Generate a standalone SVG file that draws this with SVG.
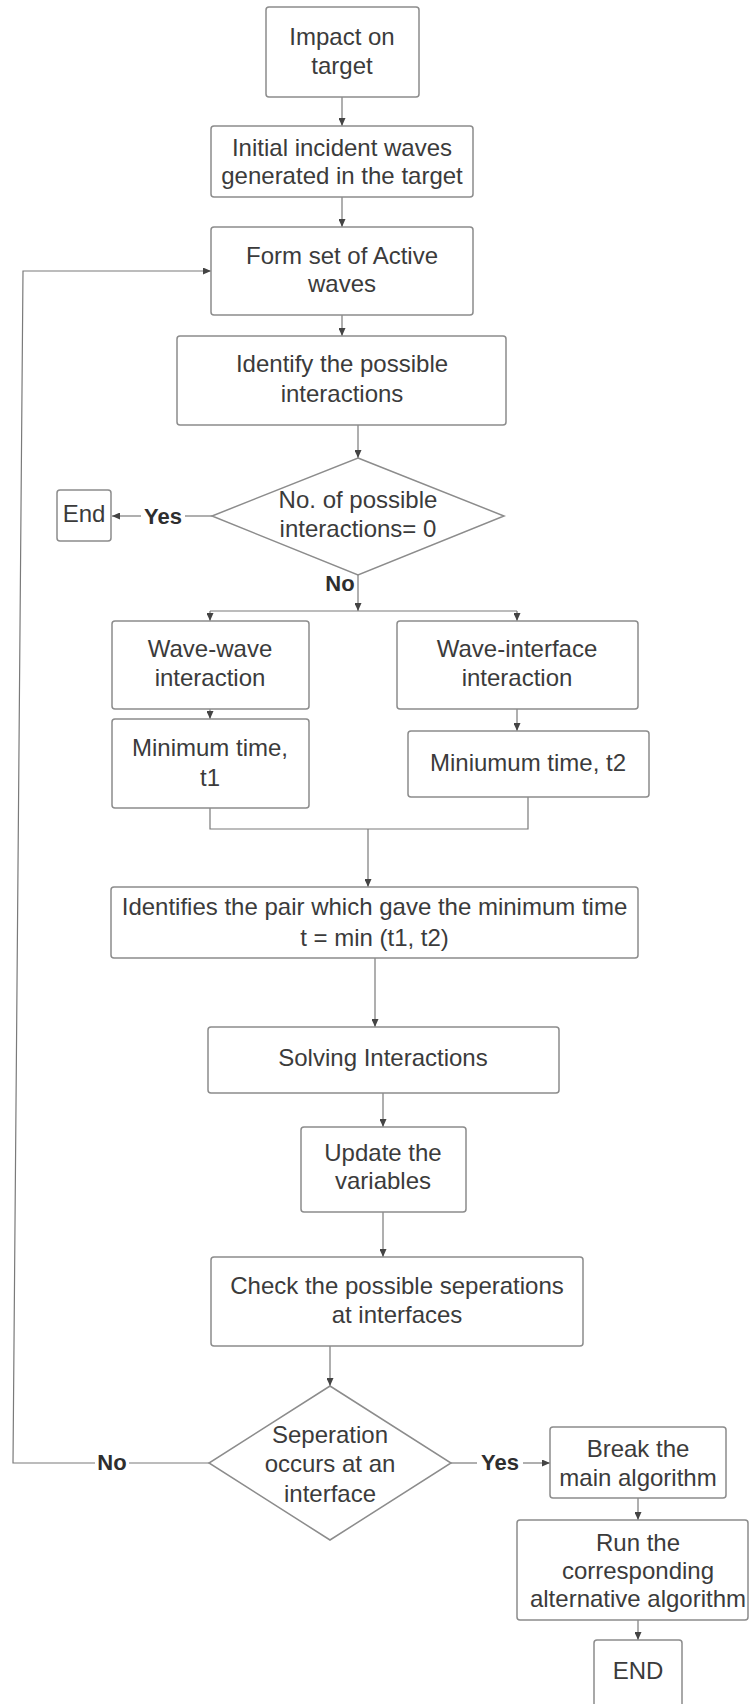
<svg xmlns="http://www.w3.org/2000/svg" width="749" height="1704" viewBox="0 0 749 1704">
<style>
  .box { fill: #ffffff; stroke: #8c8c8c; stroke-width: 1.5; }
  .t { font-family: "Liberation Sans", Arial, sans-serif; font-size: 24px; fill: #3b3b3b; text-anchor: middle; }
  .lbl { font-family: "Liberation Sans", Arial, sans-serif; font-size: 22px; font-weight: bold; fill: #2e2e2e; text-anchor: middle; }
  .c { fill: none; stroke: #7a7a7a; stroke-width: 1.2; }
  .ca { fill: none; stroke: #7a7a7a; stroke-width: 1.2; marker-end: url(#ah); }
</style>
<defs>
  <marker id="ah" markerUnits="userSpaceOnUse" markerWidth="8" markerHeight="7" refX="8" refY="3.5" orient="auto">
    <path d="M0,0 L8,3.5 L0,7 z" fill="#444444"/>
  </marker>
</defs>
<rect width="749" height="1704" fill="#ffffff"/>

<g id="connectors">
  <line class="ca" x1="342" y1="97" x2="342" y2="126"/>
  <line class="ca" x1="342" y1="197" x2="342" y2="227"/>
  <line class="ca" x1="342" y1="315" x2="342" y2="336"/>
  <line class="ca" x1="358" y1="425" x2="358" y2="458"/>
  <line class="c" x1="212" y1="516" x2="185" y2="516"/>
  <line class="ca" x1="141" y1="516" x2="112" y2="516"/>
  <line class="ca" x1="358" y1="575" x2="358" y2="611"/>
  <polyline class="c" points="210,611 517,611"/>
  <line class="ca" x1="210" y1="611" x2="210" y2="621"/>
  <line class="ca" x1="517" y1="611" x2="517" y2="621"/>
  <line class="ca" x1="210" y1="709" x2="210" y2="719"/>
  <line class="ca" x1="517" y1="709" x2="517" y2="731"/>
  <polyline class="c" points="210,808 210,829 528,829 528,797"/>
  <line class="ca" x1="368" y1="829" x2="368" y2="887"/>
  <line class="ca" x1="375" y1="958" x2="375" y2="1027"/>
  <line class="ca" x1="383" y1="1093" x2="383" y2="1127"/>
  <line class="ca" x1="383" y1="1212" x2="383" y2="1257"/>
  <line class="ca" x1="330" y1="1346" x2="330" y2="1386"/>
  <line class="c" x1="209" y1="1463" x2="129" y2="1463"/>
  <polyline class="ca" points="95,1463 13,1463 23,271 211,271"/>
  <line class="c" x1="451" y1="1463" x2="477" y2="1463"/>
  <line class="ca" x1="523" y1="1463" x2="550" y2="1463"/>
  <line class="ca" x1="638" y1="1498" x2="638" y2="1520"/>
  <line class="ca" x1="638" y1="1620" x2="638" y2="1640"/>
  <text class="lbl" x="163" y="524">Yes</text>
  <text class="lbl" x="340" y="591">No</text>
  <text class="lbl" x="112" y="1470">No</text>
  <text class="lbl" x="500" y="1470">Yes</text>
</g>

<g id="impact">
  <rect class="box" x="266" y="7" width="153" height="90" rx="3"/>
  <text class="t" x="342" y="44.5">Impact on</text>
  <text class="t" x="342" y="73.5">target</text>
</g>
<g id="initial">
  <rect class="box" x="211" y="126" width="262" height="71" rx="3"/>
  <text class="t" x="342" y="155.5">Initial incident waves</text>
  <text class="t" x="342" y="183.5">generated in the target</text>
</g>
<g id="formset">
  <rect class="box" x="211" y="227" width="262" height="88" rx="3"/>
  <text class="t" x="342" y="263.5">Form set of Active</text>
  <text class="t" x="342" y="291.5">waves</text>
</g>
<g id="identify">
  <rect class="box" x="177" y="336" width="329" height="89" rx="3"/>
  <text class="t" x="342" y="371.5">Identify the possible</text>
  <text class="t" x="342" y="401.5">interactions</text>
</g>
<g id="decision1">
  <polygon class="box" points="358,458 504,516 358,575 212,516"/>
  <text class="t" x="358" y="507.5">No. of possible</text>
  <text class="t" x="358" y="536.5">interactions= 0</text>
</g>
<g id="end1">
  <rect class="box" x="57" y="490" width="54" height="51" rx="3"/>
  <text class="t" x="84" y="521.5">End</text>
</g>
<g id="wavewave">
  <rect class="box" x="112" y="621" width="197" height="88" rx="3"/>
  <text class="t" x="210" y="656.5">Wave-wave</text>
  <text class="t" x="210" y="685.5">interaction</text>
</g>
<g id="waveinterface">
  <rect class="box" x="397" y="621" width="241" height="88" rx="3"/>
  <text class="t" x="517" y="656.5">Wave-interface</text>
  <text class="t" x="517" y="685.5">interaction</text>
</g>
<g id="mint1">
  <rect class="box" x="112" y="719" width="197" height="89" rx="3"/>
  <text class="t" x="210" y="755.5">Minimum time,</text>
  <text class="t" x="210" y="785.5">t1</text>
</g>
<g id="mint2">
  <rect class="box" x="408" y="731" width="241" height="66" rx="3"/>
  <text class="t" x="528" y="770.5">Miniumum time, t2</text>
</g>
<g id="identifies">
  <rect class="box" x="111" y="887" width="527" height="71" rx="3"/>
  <text class="t" x="374.5" y="915">Identifies the pair which gave the minimum time</text>
  <text class="t" x="374.5" y="946">t = min (t1, t2)</text>
</g>
<g id="solving">
  <rect class="box" x="208" y="1027" width="351" height="66" rx="3"/>
  <text class="t" x="383" y="1065.5">Solving Interactions</text>
</g>
<g id="update">
  <rect class="box" x="301" y="1127" width="165" height="85" rx="3"/>
  <text class="t" x="383" y="1160.5">Update the</text>
  <text class="t" x="383" y="1188.5">variables</text>
</g>
<g id="check">
  <rect class="box" x="211" y="1257" width="372" height="89" rx="3"/>
  <text class="t" x="397" y="1293.5">Check the possible seperations</text>
  <text class="t" x="397" y="1322.5">at interfaces</text>
</g>
<g id="decision2">
  <polygon class="box" points="330,1386 451,1463 330,1540 209,1463"/>
  <text class="t" x="330" y="1442.5">Seperation</text>
  <text class="t" x="330" y="1471.5">occurs at an</text>
  <text class="t" x="330" y="1501.5">interface</text>
</g>
<g id="break">
  <rect class="box" x="550" y="1427" width="176" height="71" rx="3"/>
  <text class="t" x="638" y="1456.5">Break the</text>
  <text class="t" x="638" y="1485.5">main algorithm</text>
</g>
<g id="run">
  <rect class="box" x="517" y="1520" width="231" height="100" rx="3"/>
  <text class="t" x="638" y="1550.5">Run the</text>
  <text class="t" x="638" y="1578.5">corresponding</text>
  <text class="t" x="638" y="1606.5">alternative algorithm</text>
</g>
<g id="end2">
  <rect class="box" x="594" y="1640" width="88" height="72" rx="3"/>
  <text class="t" x="638" y="1678.5">END</text>
</g>
</svg>
